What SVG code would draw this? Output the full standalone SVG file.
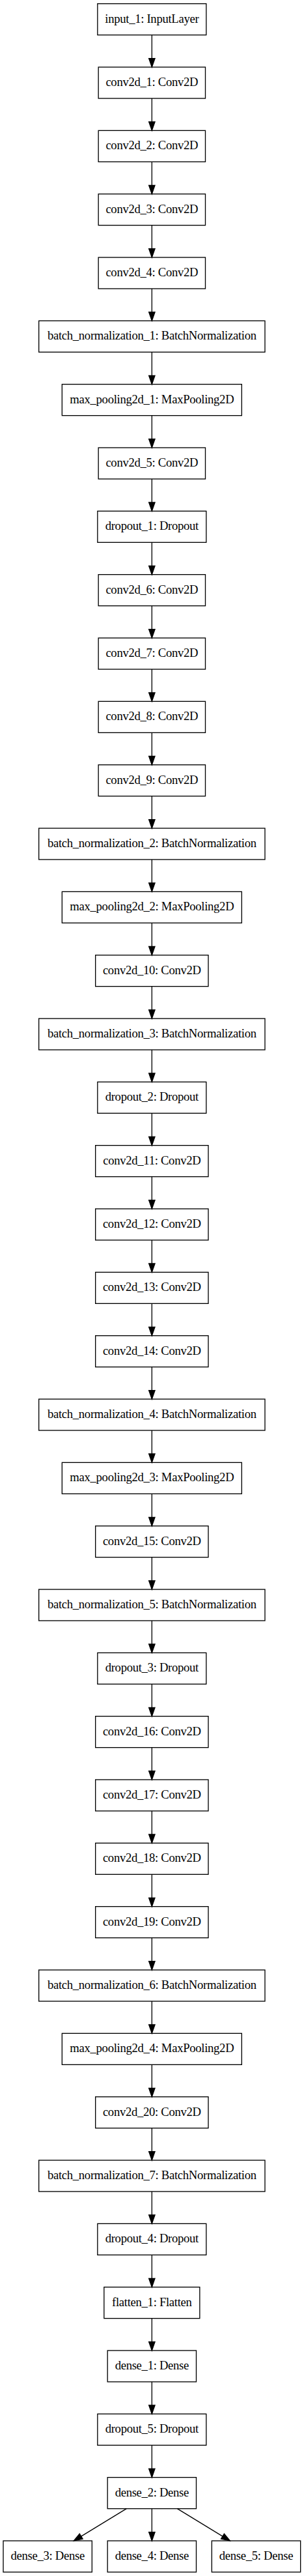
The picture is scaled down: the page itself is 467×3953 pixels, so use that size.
<svg xmlns="http://www.w3.org/2000/svg" width="467" height="3953" viewBox="0 0 467 3953">
<style>
.n rect{fill:none;stroke:#000;stroke-width:1.33}
.n text{font-family:"Liberation Serif","Times New Roman",serif;font-size:18.67px;letter-spacing:-0.3px;text-anchor:middle;fill:#000}
.e path{fill:none;stroke:#000;stroke-width:1.33}
</style>
<defs>
<marker id="ah" markerUnits="userSpaceOnUse" markerWidth="16" markerHeight="12" refX="0" refY="4.67" orient="auto" overflow="visible">
<path d="M0,0 L13.33,4.67 L0,9.33 Z" fill="#000" stroke="#000" stroke-width="1.33"/>
</marker>
</defs>
<rect x="0" y="0" width="467" height="3953" fill="#fff"/>
<g id="edges" class="e">
<path d="M233.33,53.67V89.67" marker-end="url(#ah)"/>
<path d="M233.33,151V187" marker-end="url(#ah)"/>
<path d="M233.33,248.33V284.33" marker-end="url(#ah)"/>
<path d="M233.33,345.67V381.67" marker-end="url(#ah)"/>
<path d="M233.33,443V479" marker-end="url(#ah)"/>
<path d="M233.33,540.33V576.33" marker-end="url(#ah)"/>
<path d="M233.33,637.67V673.67" marker-end="url(#ah)"/>
<path d="M233.33,735V771" marker-end="url(#ah)"/>
<path d="M233.33,832.33V868.33" marker-end="url(#ah)"/>
<path d="M233.33,929.67V965.67" marker-end="url(#ah)"/>
<path d="M233.33,1027V1063" marker-end="url(#ah)"/>
<path d="M233.33,1124.33V1160.33" marker-end="url(#ah)"/>
<path d="M233.33,1221.67V1257.67" marker-end="url(#ah)"/>
<path d="M233.33,1319V1355" marker-end="url(#ah)"/>
<path d="M233.33,1416.33V1452.33" marker-end="url(#ah)"/>
<path d="M233.33,1513.67V1549.67" marker-end="url(#ah)"/>
<path d="M233.33,1611V1647" marker-end="url(#ah)"/>
<path d="M233.33,1708.33V1744.33" marker-end="url(#ah)"/>
<path d="M233.33,1805.67V1841.67" marker-end="url(#ah)"/>
<path d="M233.33,1903V1939" marker-end="url(#ah)"/>
<path d="M233.33,2000.33V2036.33" marker-end="url(#ah)"/>
<path d="M233.33,2097.67V2133.67" marker-end="url(#ah)"/>
<path d="M233.33,2195V2231" marker-end="url(#ah)"/>
<path d="M233.33,2292.33V2328.33" marker-end="url(#ah)"/>
<path d="M233.33,2389.67V2425.67" marker-end="url(#ah)"/>
<path d="M233.33,2487V2523" marker-end="url(#ah)"/>
<path d="M233.33,2584.33V2620.33" marker-end="url(#ah)"/>
<path d="M233.33,2681.67V2717.67" marker-end="url(#ah)"/>
<path d="M233.33,2779V2815" marker-end="url(#ah)"/>
<path d="M233.33,2876.33V2912.33" marker-end="url(#ah)"/>
<path d="M233.33,2973.67V3009.67" marker-end="url(#ah)"/>
<path d="M233.33,3071V3107" marker-end="url(#ah)"/>
<path d="M233.33,3168.33V3204.33" marker-end="url(#ah)"/>
<path d="M233.33,3265.67V3301.67" marker-end="url(#ah)"/>
<path d="M233.33,3363V3399" marker-end="url(#ah)"/>
<path d="M233.33,3460.33V3496.33" marker-end="url(#ah)"/>
<path d="M233.33,3557.67V3593.67" marker-end="url(#ah)"/>
<path d="M233.33,3655V3691" marker-end="url(#ah)"/>
<path d="M233.33,3752.33V3788.33" marker-end="url(#ah)"/>
<path d="M194.33,3849.67L124.7,3892.1" marker-end="url(#ah)"/>
<path d="M233.33,3849.67V3885.67" marker-end="url(#ah)"/>
<path d="M272.33,3849.67L341.97,3892.1" marker-end="url(#ah)"/>
</g>
<g id="input_1" class="n"><rect x="149.83" y="5.67" width="167" height="48"/><text x="233.33" y="34.67">input_1: InputLayer</text></g>
<g id="conv2d_1" class="n"><rect x="151.17" y="103" width="164.33" height="48"/><text x="233.33" y="132">conv2d_1: Conv2D</text></g>
<g id="conv2d_2" class="n"><rect x="151.17" y="200.33" width="164.33" height="48"/><text x="233.33" y="229.33">conv2d_2: Conv2D</text></g>
<g id="conv2d_3" class="n"><rect x="151.17" y="297.67" width="164.33" height="48"/><text x="233.33" y="326.67">conv2d_3: Conv2D</text></g>
<g id="conv2d_4" class="n"><rect x="151.17" y="395" width="164.33" height="48"/><text x="233.33" y="424">conv2d_4: Conv2D</text></g>
<g id="batch_normalization_1" class="n"><rect x="59.67" y="492.33" width="347.33" height="48"/><text x="233.33" y="521.33">batch_normalization_1: BatchNormalization</text></g>
<g id="max_pooling2d_1" class="n"><rect x="95.33" y="589.67" width="276" height="48"/><text x="233.33" y="618.67">max_pooling2d_1: MaxPooling2D</text></g>
<g id="conv2d_5" class="n"><rect x="151.17" y="687" width="164.33" height="48"/><text x="233.33" y="716">conv2d_5: Conv2D</text></g>
<g id="dropout_1" class="n"><rect x="149.83" y="784.33" width="167" height="48"/><text x="233.33" y="813.33">dropout_1: Dropout</text></g>
<g id="conv2d_6" class="n"><rect x="151.17" y="881.67" width="164.33" height="48"/><text x="233.33" y="910.67">conv2d_6: Conv2D</text></g>
<g id="conv2d_7" class="n"><rect x="151.17" y="979" width="164.33" height="48"/><text x="233.33" y="1008">conv2d_7: Conv2D</text></g>
<g id="conv2d_8" class="n"><rect x="151.17" y="1076.33" width="164.33" height="48"/><text x="233.33" y="1105.33">conv2d_8: Conv2D</text></g>
<g id="conv2d_9" class="n"><rect x="151.17" y="1173.67" width="164.33" height="48"/><text x="233.33" y="1202.67">conv2d_9: Conv2D</text></g>
<g id="batch_normalization_2" class="n"><rect x="59.67" y="1271" width="347.33" height="48"/><text x="233.33" y="1300">batch_normalization_2: BatchNormalization</text></g>
<g id="max_pooling2d_2" class="n"><rect x="95.33" y="1368.33" width="276" height="48"/><text x="233.33" y="1397.33">max_pooling2d_2: MaxPooling2D</text></g>
<g id="conv2d_10" class="n"><rect x="146.67" y="1465.67" width="173.33" height="48"/><text x="233.33" y="1494.67">conv2d_10: Conv2D</text></g>
<g id="batch_normalization_3" class="n"><rect x="59.67" y="1563" width="347.33" height="48"/><text x="233.33" y="1592">batch_normalization_3: BatchNormalization</text></g>
<g id="dropout_2" class="n"><rect x="149.83" y="1660.33" width="167" height="48"/><text x="233.33" y="1689.33">dropout_2: Dropout</text></g>
<g id="conv2d_11" class="n"><rect x="146.67" y="1757.67" width="173.33" height="48"/><text x="233.33" y="1786.67">conv2d_11: Conv2D</text></g>
<g id="conv2d_12" class="n"><rect x="146.67" y="1855" width="173.33" height="48"/><text x="233.33" y="1884">conv2d_12: Conv2D</text></g>
<g id="conv2d_13" class="n"><rect x="146.67" y="1952.33" width="173.33" height="48"/><text x="233.33" y="1981.33">conv2d_13: Conv2D</text></g>
<g id="conv2d_14" class="n"><rect x="146.67" y="2049.67" width="173.33" height="48"/><text x="233.33" y="2078.67">conv2d_14: Conv2D</text></g>
<g id="batch_normalization_4" class="n"><rect x="59.67" y="2147" width="347.33" height="48"/><text x="233.33" y="2176">batch_normalization_4: BatchNormalization</text></g>
<g id="max_pooling2d_3" class="n"><rect x="95.33" y="2244.33" width="276" height="48"/><text x="233.33" y="2273.33">max_pooling2d_3: MaxPooling2D</text></g>
<g id="conv2d_15" class="n"><rect x="146.67" y="2341.67" width="173.33" height="48"/><text x="233.33" y="2370.67">conv2d_15: Conv2D</text></g>
<g id="batch_normalization_5" class="n"><rect x="59.67" y="2439" width="347.33" height="48"/><text x="233.33" y="2468">batch_normalization_5: BatchNormalization</text></g>
<g id="dropout_3" class="n"><rect x="149.83" y="2536.33" width="167" height="48"/><text x="233.33" y="2565.33">dropout_3: Dropout</text></g>
<g id="conv2d_16" class="n"><rect x="146.67" y="2633.67" width="173.33" height="48"/><text x="233.33" y="2662.67">conv2d_16: Conv2D</text></g>
<g id="conv2d_17" class="n"><rect x="146.67" y="2731" width="173.33" height="48"/><text x="233.33" y="2760">conv2d_17: Conv2D</text></g>
<g id="conv2d_18" class="n"><rect x="146.67" y="2828.33" width="173.33" height="48"/><text x="233.33" y="2857.33">conv2d_18: Conv2D</text></g>
<g id="conv2d_19" class="n"><rect x="146.67" y="2925.67" width="173.33" height="48"/><text x="233.33" y="2954.67">conv2d_19: Conv2D</text></g>
<g id="batch_normalization_6" class="n"><rect x="59.67" y="3023" width="347.33" height="48"/><text x="233.33" y="3052">batch_normalization_6: BatchNormalization</text></g>
<g id="max_pooling2d_4" class="n"><rect x="95.33" y="3120.33" width="276" height="48"/><text x="233.33" y="3149.33">max_pooling2d_4: MaxPooling2D</text></g>
<g id="conv2d_20" class="n"><rect x="146.67" y="3217.67" width="173.33" height="48"/><text x="233.33" y="3246.67">conv2d_20: Conv2D</text></g>
<g id="batch_normalization_7" class="n"><rect x="59.67" y="3315" width="347.33" height="48"/><text x="233.33" y="3344">batch_normalization_7: BatchNormalization</text></g>
<g id="dropout_4" class="n"><rect x="149.83" y="3412.33" width="167" height="48"/><text x="233.33" y="3441.33">dropout_4: Dropout</text></g>
<g id="flatten_1" class="n"><rect x="159.83" y="3509.67" width="147" height="48"/><text x="233.33" y="3538.67">flatten_1: Flatten</text></g>
<g id="dense_1" class="n"><rect x="165.17" y="3607" width="136.33" height="48"/><text x="233.33" y="3636">dense_1: Dense</text></g>
<g id="dropout_5" class="n"><rect x="149.83" y="3704.33" width="167" height="48"/><text x="233.33" y="3733.33">dropout_5: Dropout</text></g>
<g id="dense_2" class="n"><rect x="165.17" y="3801.67" width="136.33" height="48"/><text x="233.33" y="3830.67">dense_2: Dense</text></g>
<g id="dense_3" class="n"><rect x="5" y="3899" width="136.33" height="48"/><text x="73.17" y="3928">dense_3: Dense</text></g>
<g id="dense_4" class="n"><rect x="165.17" y="3899" width="136.33" height="48"/><text x="233.33" y="3928">dense_4: Dense</text></g>
<g id="dense_5" class="n"><rect x="325.33" y="3899" width="136.33" height="48"/><text x="393.5" y="3928">dense_5: Dense</text></g>
</svg>
